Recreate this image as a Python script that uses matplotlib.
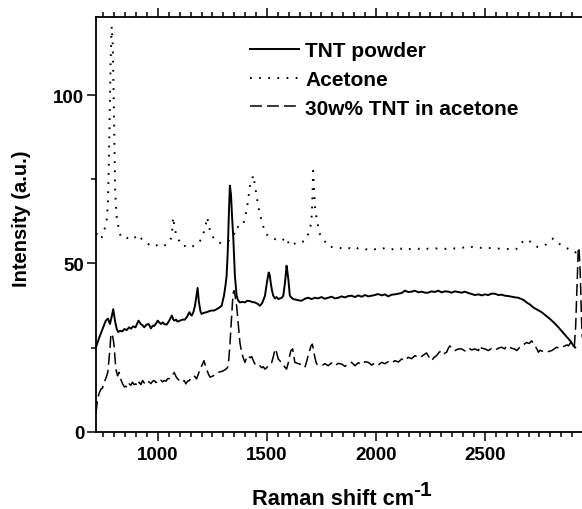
import numpy as np
import matplotlib
import matplotlib.pyplot as plt
from matplotlib.ticker import MultipleLocator

matplotlib.use('Agg')

# Raman spectra (shift in cm-1, intensity in a.u.)
tnt_shift = [716, 731, 746, 761, 771, 780, 789, 795, 803, 811, 818, 826, 836, 846, 857,
             868, 877, 886, 897, 911, 921, 930, 937, 947, 957, 968, 976, 983, 992, 999,
             1007, 1014, 1022, 1029, 1040, 1052, 1058, 1064, 1070, 1075, 1083, 1090, 1101,
             1113, 1124, 1134, 1144, 1150, 1155, 1163, 1170, 1176, 1182, 1188, 1195, 1200,
             1210, 1223, 1235, 1246, 1258, 1269, 1280, 1292, 1303, 1310, 1315, 1320, 1325,
             1330, 1335, 1340, 1346, 1353, 1361, 1368, 1376, 1388, 1399, 1410, 1422, 1433,
             1445, 1457, 1468, 1478, 1491, 1501, 1508, 1513, 1517, 1523, 1529, 1537, 1544,
             1552, 1560, 1568, 1575, 1583, 1590, 1594, 1598, 1605, 1613, 1621, 1635, 1647,
             1659, 1674, 1689, 1705, 1720, 1735, 1750, 1765, 1781, 1797, 1812, 1827, 1842,
             1858, 1873, 1888, 1904, 1919, 1934, 1950, 1965, 1980, 1995, 2010, 2026, 2041,
             2056, 2072, 2087, 2103, 2118, 2133, 2148, 2164, 2179, 2194, 2210, 2225, 2240,
             2255, 2270, 2286, 2301, 2316, 2332, 2347, 2362, 2378, 2393, 2408, 2424, 2439,
             2454, 2470, 2485, 2500, 2515, 2530, 2546, 2561, 2576, 2592, 2607, 2622, 2638,
             2653, 2668, 2680, 2691, 2706, 2722, 2741, 2760, 2779, 2798, 2818, 2837, 2852,
             2868, 2880, 2891, 2906, 2914]
tnt_int = [25.1, 28.0, 30.5, 33.0, 33.6, 32.0, 34.5, 36.4, 33.0, 30.5, 29.6, 30.0, 29.8, 30.5,
           30.2, 31.0, 30.6, 31.3, 31.0, 33.0, 32.0, 31.6, 31.0, 31.8, 32.0, 30.7, 31.5, 31.4,
           32.2, 33.0, 32.4, 32.0, 32.5, 32.0, 31.8, 33.0, 33.8, 34.5, 33.4, 33.0, 33.3, 32.7,
           33.0, 33.3, 33.3, 34.2, 35.5, 34.8, 34.5, 35.6, 37.4, 40.0, 42.7, 38.5, 35.8, 35.0,
           35.3, 35.5, 35.8, 36.0, 36.0, 36.4, 36.8, 37.4, 40.4, 43.5, 46.3, 53.0, 64.0, 73.1,
           70.5, 64.0, 57.2, 46.3, 40.4, 39.0, 38.4, 38.6, 38.4, 38.9, 38.8, 38.5, 38.4, 38.0,
           37.4, 38.2, 40.4, 44.8, 47.3, 46.5, 44.4, 42.0, 40.4, 39.6, 40.0, 39.4, 39.6, 39.8,
           40.4, 44.4, 49.3, 47.5, 45.4, 40.4, 39.8, 39.4, 39.2, 39.0, 38.9, 39.5, 39.8, 39.4,
           39.8, 39.6, 40.0, 39.5, 39.8, 40.1, 39.6, 39.8, 40.2, 39.9, 40.3, 40.4, 40.0, 40.5,
           40.1, 40.6, 40.2, 40.4, 40.6, 40.9, 40.5, 40.8, 40.2, 40.7, 40.8, 41.0, 41.2, 41.9,
           41.5, 41.6, 41.9, 41.4, 41.6, 41.3, 41.3, 41.7, 41.5, 41.9, 41.4, 41.7, 41.6, 41.3,
           41.7, 41.5, 41.3, 41.6, 41.2, 40.9, 40.6, 40.8, 40.5, 40.8, 40.6, 41.0, 41.0, 40.6,
           40.7, 40.4, 40.3, 40.1, 39.9, 39.8, 39.4, 39.0, 38.4, 37.8, 36.9, 36.2, 35.5, 34.5,
           33.5, 32.3, 31.0, 29.9, 28.7, 27.8, 27.0, 25.5, 25.0]

acetone_shift = [716, 723, 731, 739, 750, 758, 766, 771, 775, 779, 783, 788, 793, 797, 800,
                 804, 812, 820, 830, 842, 853, 865, 876, 886, 894, 903, 911, 920, 930, 940,
                 948, 960, 971, 986, 1002, 1012, 1022, 1037, 1048, 1055, 1060, 1064, 1067,
                 1070, 1075, 1083, 1095, 1105, 1116, 1124, 1136, 1147, 1158, 1170, 1182, 1193,
                 1202, 1208, 1215, 1220, 1226, 1232, 1239, 1246, 1254, 1265, 1277, 1292, 1307,
                 1322, 1338, 1350, 1361, 1372, 1384, 1392, 1399, 1407, 1414, 1422, 1430, 1437,
                 1443, 1450, 1455, 1460, 1468, 1476, 1485, 1495, 1508, 1522, 1537, 1552, 1567,
                 1580, 1590, 1597, 1605, 1617, 1628, 1640, 1651, 1662, 1674, 1682, 1689, 1696,
                 1702, 1706, 1709, 1712, 1716, 1720, 1726, 1732, 1737, 1743, 1755, 1766, 1778,
                 1789, 1805, 1820, 1835, 1850, 1865, 1880, 1895, 1904, 1919, 1934, 1950, 1965,
                 1980, 1995, 2011, 2026, 2041, 2056, 2072, 2087, 2103, 2118, 2133, 2148, 2164,
                 2179, 2194, 2210, 2225, 2240, 2255, 2270, 2286, 2301, 2316, 2332, 2347, 2362,
                 2378, 2393, 2408, 2424, 2439, 2454, 2470, 2485, 2500, 2515, 2530, 2546, 2561,
                 2576, 2592, 2607, 2622, 2638, 2650, 2661, 2668, 2676, 2684, 2691, 2699, 2707,
                 2715, 2722, 2730, 2741, 2752, 2763, 2775, 2787, 2798, 2806, 2813, 2821, 2829,
                 2840, 2852, 2864, 2875, 2887, 2898, 2910, 2918, 2922]
acetone_int = [58.5, 58.7, 57.8, 57.2, 59.0, 60.8, 63.4, 68.7, 80.0, 95.0, 110.0, 120.4, 115.0,
               100.0, 88.0, 71.0, 63.0, 60.5, 57.8, 57.8, 57.8, 57.3, 57.0, 57.6, 57.7, 58.3,
               58.5, 57.6, 57.0, 56.6, 56.3, 55.5, 55.0, 55.2, 55.5, 55.1, 55.0, 55.6, 56.0,
               56.5, 57.5, 58.7, 61.0, 63.7, 61.0, 58.7, 57.0, 56.0, 55.0, 55.2, 54.8, 54.6,
               55.0, 55.5, 55.9, 56.7, 57.5, 58.7, 60.5, 61.7, 63.7, 61.8, 59.7, 58.5, 57.7,
               56.9, 56.2, 56.0, 56.2, 56.6, 57.4, 58.8, 61.0, 60.6, 61.0, 62.0, 63.2, 66.0,
               69.0, 73.0, 74.5, 76.2, 74.0, 71.0, 69.0, 67.0, 64.5, 62.7, 60.5, 58.7, 58.2,
               58.0, 57.2, 57.2, 56.7, 57.3, 57.7, 56.4, 55.2, 55.6, 55.9, 55.7, 56.2, 56.4,
               56.7, 57.6, 58.7, 60.0, 61.7, 64.6, 70.0, 77.5, 72.0, 67.0, 64.0, 62.2, 60.3,
               58.7, 57.5, 56.5, 55.5, 54.8, 55.0, 54.8, 54.6, 54.3, 54.7, 54.5, 54.3, 54.8,
               54.4, 54.6, 54.3, 54.0, 54.4, 54.2, 54.5, 54.2, 54.6, 54.3, 54.1, 54.5, 54.7,
               54.3, 54.6, 54.2, 54.4, 54.5, 54.3, 54.6, 54.2, 54.4, 54.5, 54.3, 54.6, 54.4,
               54.3, 54.5, 54.7, 54.4, 54.3, 54.6, 54.8, 55.2, 54.9, 54.5, 54.7, 54.6, 54.8,
               54.6, 54.5, 54.3, 54.4, 54.3, 54.2, 54.3, 54.1, 54.0, 54.6, 55.2, 56.0, 56.7,
               56.5, 56.2, 56.6, 56.5, 55.8, 55.5, 55.2, 54.9, 54.8, 55.0, 55.4, 56.0, 56.7,
               57.1, 57.4, 57.0, 56.5, 55.9, 55.2, 54.8, 54.5, 54.2, 54.0, 53.8, 53.0, 51.5]

mix_shift = [716, 723, 731, 739, 746, 754, 762, 770, 775, 780, 784, 788, 792, 796, 799, 803,
             807, 815, 822, 830, 838, 846, 853, 861, 868, 876, 883, 891, 899, 907, 914, 922,
             930, 937, 945, 953, 960, 968, 976, 983, 991, 999, 1006, 1014, 1021, 1029, 1037,
             1044, 1052, 1060, 1067, 1075, 1082, 1090, 1098, 1105, 1113, 1121, 1128, 1136,
             1144, 1150, 1161, 1169, 1177, 1185, 1193, 1200, 1205, 1211, 1217, 1223, 1231,
             1239, 1246, 1254, 1262, 1270, 1277, 1285, 1292, 1300, 1310, 1320, 1325, 1330,
             1334, 1338, 1342, 1346, 1350, 1355, 1361, 1365, 1369, 1376, 1384, 1391, 1399,
             1406, 1414, 1422, 1430, 1437, 1445, 1453, 1460, 1468, 1476, 1483, 1491, 1499,
             1506, 1514, 1522, 1530, 1537, 1544, 1552, 1560, 1567, 1575, 1582, 1590, 1598,
             1605, 1610, 1618, 1623, 1628, 1640, 1651, 1662, 1674, 1682, 1689, 1696, 1702,
             1708, 1713, 1717, 1722, 1728, 1740, 1751, 1766, 1781, 1796, 1812, 1827, 1842,
             1858, 1873, 1888, 1904, 1919, 1934, 1950, 1965, 1980, 1995, 2010, 2026, 2041,
             2056, 2072, 2087, 2103, 2118, 2133, 2148, 2164, 2179, 2194, 2210, 2221, 2232,
             2243, 2255, 2266, 2278, 2290, 2301, 2312, 2324, 2332, 2339, 2350, 2362, 2378,
             2393, 2408, 2424, 2439, 2454, 2470, 2477, 2485, 2500, 2515, 2530, 2546, 2561,
             2576, 2590, 2599, 2611, 2622, 2634, 2646, 2657, 2668, 2680, 2691, 2703, 2714,
             2722, 2730, 2738, 2745, 2753, 2760, 2771, 2783, 2795, 2806, 2818, 2829, 2840,
             2852, 2860, 2868, 2875, 2883, 2891, 2898, 2904, 2910, 2916, 2920, 2925, 2928,
             2931, 2935, 2938, 2942, 2946]
mix_int = [5.5, 9.7, 11.5, 12.7, 13.0, 14.7, 16.0, 17.6, 21.0, 24.6, 28.5, 29.2, 28.5, 27.0,
           25.5, 22.0, 18.6, 16.6, 17.6, 15.5, 14.2, 13.3, 13.5, 13.0, 14.2, 13.8, 14.7, 14.0,
           14.2, 13.5, 14.7, 14.0, 15.2, 14.5, 14.2, 15.0, 14.7, 14.3, 15.0, 15.2, 14.6, 15.0,
           14.7, 15.3, 14.8, 15.2, 15.0, 15.7, 15.8, 16.2, 16.8, 17.6, 16.5, 15.7, 15.2, 14.7,
           14.8, 15.2, 14.2, 15.0, 15.2, 15.7, 16.6, 16.4, 15.7, 17.0, 18.6, 19.5, 20.1, 21.1,
           19.8, 18.6, 17.2, 16.2, 16.4, 16.6, 17.0, 17.4, 17.6, 17.8, 17.9, 18.1, 18.5, 19.1,
           21.5, 25.5, 30.0, 34.5, 38.5, 41.4, 41.9, 40.0, 37.4, 34.5, 31.5, 26.5, 23.6, 22.0,
           20.6, 21.8, 22.6, 22.0, 22.3, 21.2, 20.1, 20.3, 19.8, 19.6, 19.0, 19.3, 18.6, 19.0,
           19.6, 20.0, 20.6, 22.5, 24.6, 23.6, 21.6, 21.0, 20.6, 19.8, 19.2, 18.6, 20.5, 22.8,
           24.1, 24.6, 22.5, 20.6, 20.3, 20.1, 19.6, 19.1, 20.8, 22.6, 24.2, 25.5, 26.0, 24.6,
           23.0, 21.5, 20.1, 19.8, 19.6, 20.2, 19.6, 20.4, 19.6, 20.3, 20.1, 19.4, 20.2, 20.6,
           19.6, 20.5, 20.0, 20.8, 20.6, 19.8, 20.4, 19.8, 20.6, 20.2, 20.8, 20.4, 21.1, 20.7,
           21.6, 21.1, 22.1, 21.7, 22.6, 22.0, 22.4, 22.9, 23.4, 22.2, 21.1, 22.0, 22.6, 23.6,
           24.1, 23.2, 23.6, 24.8, 25.5, 24.6, 24.1, 24.6, 24.6, 24.0, 24.9, 24.3, 24.6, 24.1,
           25.5, 24.8, 24.6, 24.1, 24.7, 24.2, 24.8, 25.1, 24.6, 25.5, 25.2, 24.8, 24.6, 24.1,
           24.9, 25.5, 26.0, 26.5, 26.2, 27.0, 26.2, 25.5, 24.6, 23.6, 24.2, 24.0, 23.8, 23.6,
           23.9, 24.1, 24.6, 25.1, 24.8, 25.0, 25.3, 25.5, 25.8, 25.5, 26.3, 27.0, 26.2, 25.5,
           31.5, 39.4, 49.3, 54.3, 54.8, 50.0, 45.0, 35.0, 28.0]

series_labels = ["TNT powder", "Acetone", "30w% TNT in acetone"]

font = ['Liberation Sans', 'DejaVu Sans']

fig = plt.figure(figsize=(5.82, 5.10), dpi=100)
ax = fig.add_axes([96 / 582, 1 - 432.7 / 510, 486 / 582, 414.7 / 510])

ax.plot(tnt_shift, tnt_int, color='black', lw=1.4, label=series_labels[0])
ax.plot(acetone_shift, acetone_int, color='black', lw=1.4,
        linestyle=(0, (0.9, 3.8)), dash_capstyle='butt', label=series_labels[1])
ax.plot(mix_shift, mix_int, color='black', lw=1.1,
        linestyle=(0, (7.8, 3.3)), label=series_labels[2])

ax.set_xlim(716, 2945)
ax.set_ylim(0, 123.2)
ax.xaxis.set_major_locator(MultipleLocator(500))
ax.xaxis.set_minor_locator(MultipleLocator(50))
ax.yaxis.set_major_locator(MultipleLocator(50))
ax.yaxis.set_minor_locator(MultipleLocator(25))

ax.spines['right'].set_visible(False)
for side in ['left', 'top', 'bottom']:
    ax.spines[side].set_linewidth(1.3)

ax.tick_params(which='both', direction='out', width=1.1, top=True, right=False)
ax.tick_params(which='major', length=6.5)
ax.tick_params(which='minor', length=3.5)
ax.tick_params(axis='x', which='major', pad=4)
ax.tick_params(axis='y', which='major', pad=2)
for lab in ax.get_xticklabels() + ax.get_yticklabels():
    lab.set_family(font)
    lab.set_fontweight('bold')
    lab.set_fontsize(13.5)

# axis titles
fig.text(22 / 582, 1 - 218.5 / 510, "Intensity (a.u.)", rotation=90,
         ha='center', va='center', family=font, fontweight='bold', fontsize=14.5)
fig.text(252 / 582, 1 - 505 / 510, "Raman shift cm", ha='left', va='baseline',
         family=font, fontweight='bold', fontsize=15.7)
fig.text(413 / 582, 1 - 496 / 510, "-1", ha='left', va='baseline',
         family=font, fontweight='bold', fontsize=15)

ax.legend(loc='upper left', bbox_to_anchor=(250 / 582, 1 - 42 / 510),
          bbox_transform=fig.transFigure, frameon=False, borderpad=0,
          borderaxespad=0, handlelength=2.35, handletextpad=0.3,
          labelspacing=0.47, prop={'family': font, 'weight': 'bold', 'size': 15})

fig.savefig('out.png', dpi=100)
